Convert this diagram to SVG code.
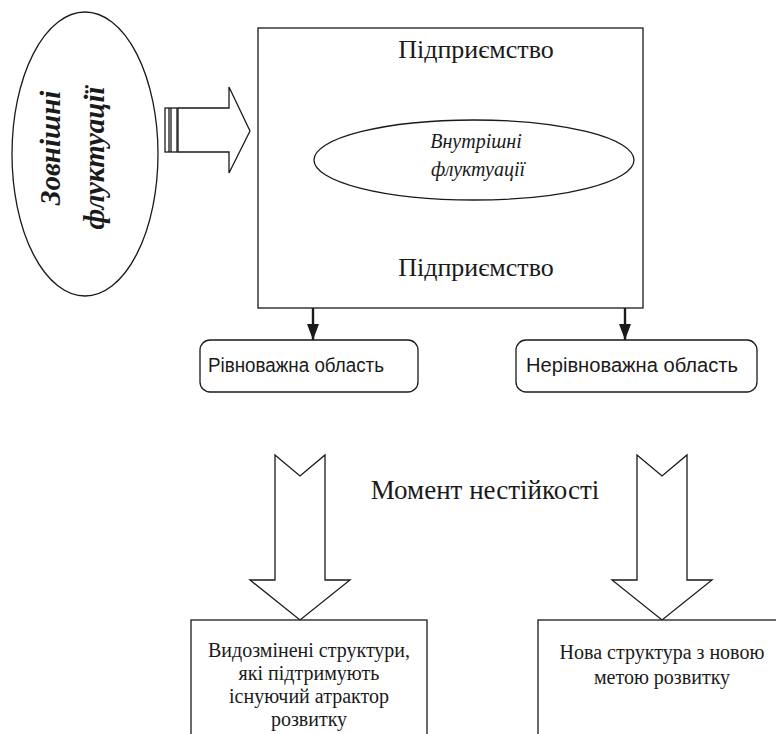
<svg xmlns="http://www.w3.org/2000/svg" width="776" height="734" viewBox="0 0 776 734">
<style>
.ln{fill:#fff;stroke:#1a1a1a;stroke-width:1.3}
.ser{font-family:"Liberation Serif","Times New Roman",serif;fill:#1a1a1a}
.san{font-family:"Liberation Sans",Arial,sans-serif;fill:#1a1a1a}
.con{stroke:#1a1a1a;stroke-width:2.4;fill:none}
</style>
<defs>
<marker id="ah" viewBox="0 0 16 12" refX="16" refY="6" markerWidth="16" markerHeight="12" markerUnits="userSpaceOnUse" orient="auto">
<path d="M0,0 L16,6 L0,12 z" fill="#1a1a1a"/>
</marker>
</defs>
<rect width="776" height="734" fill="#fff"/>
<g id="external">
<ellipse class="ln" cx="85" cy="154" rx="73" ry="142"/>
<text class="ser" font-size="29" font-weight="bold" font-style="italic" text-anchor="middle" transform="translate(60,148) rotate(-90)">Зовнішні</text>
<text class="ser" font-size="29" font-weight="bold" font-style="italic" text-anchor="middle" transform="translate(104,158) rotate(-90)">флуктуації</text>
</g>
<g id="input-arrow">
<rect class="ln" x="165" y="108" width="12" height="44"/>
<line class="ln" x1="169" y1="108" x2="169" y2="152"/>
<line class="ln" x1="171" y1="108" x2="171" y2="152"/>
<polygon class="ln" points="178,108 229,108 229,87 250,131 229,173 229,152 178,152"/>
</g>
<g id="enterprise">
<rect class="ln" x="258" y="28" width="385" height="280"/>
<text class="ser" font-size="26" text-anchor="middle" x="476" y="58">Підприємство</text>
<text class="ser" font-size="26" text-anchor="middle" x="476" y="276">Підприємство</text>
</g>
<g id="internal">
<ellipse class="ln" cx="474" cy="160" rx="160" ry="40"/>
<text class="ser" font-size="20" font-style="italic" text-anchor="middle" x="476" y="148">Внутрішні</text>
<text class="ser" font-size="20" font-style="italic" text-anchor="middle" x="478" y="176">флуктуації</text>
</g>
<g id="connectors">
<line class="con" x1="313" y1="308" x2="313" y2="340" marker-end="url(#ah)"/>
<line class="con" x1="625" y1="308" x2="625" y2="340" marker-end="url(#ah)"/>
</g>
<g id="equilibrium">
<rect class="ln" x="200" y="340" width="218" height="52" rx="10"/>
<text class="san" font-size="20" x="208" y="372" textLength="176" lengthAdjust="spacingAndGlyphs">Рівноважна область</text>
</g>
<g id="nonequilibrium">
<rect class="ln" x="516" y="340" width="241" height="52" rx="10"/>
<text class="san" font-size="20" x="526" y="372" textLength="212" lengthAdjust="spacingAndGlyphs">Нерівноважна область</text>
</g>
<g id="moment">
<text class="ser" font-size="27" text-anchor="middle" x="485" y="499">Момент нестійкості</text>
</g>
<g id="hollow-left">
<polygon class="ln" points="275,455 300,476 325,455 325,580 350,580 300,620 250,580 275,580"/>
</g>
<g id="hollow-right">
<polygon class="ln" points="637,455 662,476 687,455 687,580 712,580 662,620 612,580 637,580"/>
</g>
<g id="modified">
<rect class="ln" x="191" y="620" width="236" height="130"/>
<text class="ser" font-size="20" text-anchor="middle" x="309" y="657">Видозмінені структури,</text>
<text class="ser" font-size="20" text-anchor="middle" x="309" y="680">які підтримують</text>
<text class="ser" font-size="20" text-anchor="middle" x="309" y="703">існуючий атрактор</text>
<text class="ser" font-size="20" text-anchor="middle" x="309" y="726">розвитку</text>
</g>
<g id="new-structure">
<rect class="ln" x="538" y="620" width="250" height="130"/>
<text class="ser" font-size="20" text-anchor="middle" x="662" y="659">Нова структура з новою</text>
<text class="ser" font-size="20" text-anchor="middle" x="662" y="684">метою розвитку</text>
</g>
</svg>
